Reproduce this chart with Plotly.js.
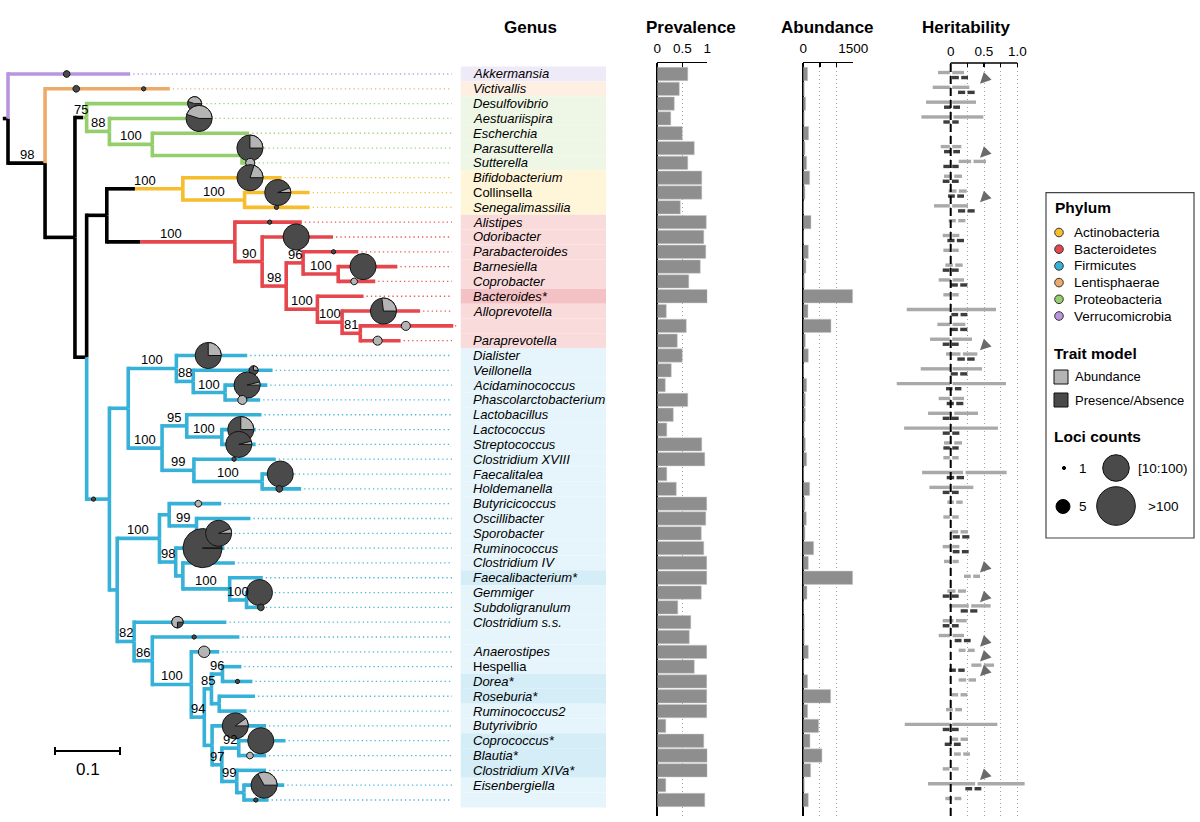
<!DOCTYPE html>
<html><head><meta charset="utf-8">
<script src="https://cdn.plot.ly/plotly-3.0.1.min.js"></script>
<style>body{margin:0;background:#fff}#chart{width:1200px;height:822px}</style>
</head><body><div id="chart"></div>
<script>
// ---------------- DATA ----------------
// Tree (Newick, branch lengths in substitutions/site, internal labels = bootstrap)
const cladeProteobacteria = "(Desulfovibrio:0.166,(Aestuariispira:0.138,(Escherchia:0.149,(Parasutterella:0.023,Sutterella:0.014):0.138)100:0.066)88:0.035)75";
const cladeActinobacteria = "(Bifidobacterium:0.152,(Collinsella:0.100,Senegalimassilia:0.100)100:0.095)100";
const cladeBacteroidetes = "(Alistipes:0.103,(Odoribacter:0.109,((Parabacteroides:0.085,(Barnesiella:0.091,Coprobacter:0.057)100:0.054)96:0.026,(Bacteroides*:0.071,(Alloprevotella:0.120,(unnamed1:0.143,Paraprevotella:0.062)81:0.028)100:0.038)100:0.048)98:0.037)90:0.042)100";
const cladeFirmicutesA = "((Dialister:0.109,(Veillonella:0.122,(Acidaminococcus:0.065,Phascolarctobacterium:0.054)100:0.049)88:0.026)100:0.074,((Lactobacillus:0.115,(Lactococcus:0.052,Streptococcus:0.052)100:0.054)95:0.038,(Clostridium XVIII:0.126,(Faecalitalea:0.045,Holdemanella:0.060)100:0.105)99:0.049)100:0.052)";
const cladeFirmicutesB = "((Butyricicoccus:0.080,(Oscillibacter:0.083,Sporobacter:0.054)99:0.042):0.015,(Ruminococcus:0.075,(Clostridium IV:0.080,(Faecalibacterium*:0.051,(Gemmiger:0.032,Subdoligranulum:0.025)100:0.026)100:0.072):0.011)98:0.025)100";
const cladeFirmicutesC = "(Clostridium s.s.:0.142,(unnamed2:0.134,(Anaerostipes:0.043,(((Hespellia:0.029,Dorea*:0.046)96:0.017,(Roseburia*:0.055,Ruminococcus2:0.042):0.012)85:0.011,(Butyrivibrio:0.083,((Coprococcus*:0.072,Blautia*:0.042)92:0.026,(Clostridium XIVa*:0.045,(Eisenbergiella:0.062,unnamed3:0.038):0.011)99:0.023)97:0.015):0.012)94:0.020)100:0.060)86:0.028)82";
const cladeFirmicutes = "(" + cladeFirmicutesA + ":0.029,(" + cladeFirmicutesB + ":0.065," + cladeFirmicutesC + ":0.026):0.012)";
const newick = "(Akkermansia:0.188,(Victivallis:0.192,(" + cladeProteobacteria + ":0.018,((" + cladeActinobacteria + ":0.117," + cladeBacteroidetes + ":0.197):0.031," + cladeFirmicutes + ":0.035):0.018):0.046)98:0.057):0.008;";

const genus = ["Akkermansia","Victivallis","Desulfovibrio","Aestuariispira","Escherchia","Parasutterella","Sutterella","Bifidobacterium","Collinsella","Senegalimassilia","Alistipes","Odoribacter","Parabacteroides","Barnesiella","Coprobacter","Bacteroides*","Alloprevotella","","Paraprevotella","Dialister","Veillonella","Acidaminococcus","Phascolarctobacterium","Lactobacillus","Lactococcus","Streptococcus","Clostridium XVIII","Faecalitalea","Holdemanella","Butyricicoccus","Oscillibacter","Sporobacter","Ruminococcus","Clostridium IV","Faecalibacterium*","Gemmiger","Subdoligranulum","Clostridium s.s.","","Anaerostipes","Hespellia","Dorea*","Roseburia*","Ruminococcus2","Butyrivibrio","Coprococcus*","Blautia*","Clostridium XIVa*","Eisenbergiella",""];
const uprightGenus = ["Collinsella","Hespellia"];
const tipPhylum = ["V","L","P","P","P","P","P","A","A","A","B","B","B","B","B","B","B","B","B","F","F","F","F","F","F","F","F","F","F","F","F","F","F","F","F","F","F","F","F","F","F","F","F","F","F","F","F","F","F","F"];

const phylumCode = ["A","B","F","L","P","V"];
const phylumName = ["Actinobacteria","Bacteroidetes","Firmicutes","Lentisphaerae","Proteobacteria","Verrucomicrobia"];
const phylumColor = ["#f6be2d","#e5474d","#36b1d8","#eeaa68","#95ce6c","#b995e0"];
const bandColor = ["#fff5d8","#fadbdc","#e6f5fb","#fdefe1","#eef7e5","#efeaf8"];
const bandColorStar = ["#ffeab0","#f4c2c5","#d4edf7","#fbe1c6","#dcefcf","#e0d6f3"];
const stemBlackFraction = [0.37,0.26,0,0,0.7,0];

const prevalence = [0.61,0.44,0.34,0.27,0.50,0.74,0.61,0.89,0.89,0.46,0.98,0.93,0.97,0.86,0.63,1.00,0.18,0.58,0.40,0.50,0.28,0.16,0.61,0.32,0.19,0.89,0.95,0.19,0.38,0.99,0.97,0.88,0.93,0.99,0.99,0.88,0.41,0.67,0.64,0.99,0.74,0.99,0.99,0.99,0.17,0.93,1.00,1.00,0.17,0.95];
const abundance = [130,30,70,30,160,50,100,190,50,10,230,10,150,80,30,1480,140,830,60,150,10,100,60,60,30,60,100,10,190,50,90,50,310,150,1480,110,10,30,30,150,10,130,820,130,460,200,560,220,30,150];

// heritability 95% intervals (light = abundance model, dark = presence/absence model)
const herAbLo = [-0.19,-0.27,-0.37,-0.44,null,-0.15,0.12,-0.10,-0.03,-0.25,-0.03,-0.12,-0.11,-0.08,-0.18,-0.11,-0.66,-0.20,-0.31,-0.07,-0.45,-0.81,-0.18,-0.34,-0.70,-0.10,-0.11,-0.43,-0.32,-0.05,-0.11,0.00,-0.12,-0.10,0.20,-0.05,-0.02,-0.12,-0.18,0.12,0.31,0.12,0.01,-0.07,-0.69,0.00,0.05,-0.12,-0.34,-0.08];
const herAbHi = [0.20,0.28,0.38,0.49,null,0.16,0.53,0.17,0.24,0.26,0.22,0.13,0.12,0.18,0.20,0.12,0.68,0.22,0.32,0.40,0.47,0.83,0.20,0.41,0.71,0.17,0.12,0.84,0.34,0.18,0.12,0.26,0.13,0.12,0.44,0.23,0.60,0.24,0.20,0.36,0.65,0.38,0.25,0.17,0.70,0.26,0.29,0.12,1.11,0.16];
const herPaLo = [0.02,0.11,-0.10,-0.11,null,-0.10,-0.11,-0.12,-0.04,0.11,null,-0.05,null,-0.12,0.00,null,0.01,0.00,-0.12,0.10,0.00,-0.07,-0.06,-0.12,-0.12,-0.11,null,-0.06,-0.12,null,null,0.03,0.03,null,null,-0.12,0.15,-0.12,0.06,null,-0.02,null,null,null,-0.12,-0.09,null,null,0.22,null];
const herPaHi = [0.26,0.36,0.14,0.12,null,0.14,0.12,0.12,0.20,0.36,null,0.20,null,0.12,0.25,null,0.25,0.25,0.12,0.36,0.25,0.16,0.19,0.12,0.13,0.12,null,0.20,0.12,null,null,0.28,0.27,null,null,0.12,0.40,0.12,0.30,null,0.21,null,null,null,0.12,0.15,null,null,0.46,null];
const significantRows = [2,7,10,20,35,37,40,41,42,49];

// mapped loci shown as pies on branches
const pieEdge = ["Akkermansia","Victivallis","Victivallis","Desulfovibrio","Aestuariispira","Parasutterella","Sutterella","Bifidobacterium","Collinsella","Senegalimassilia","Alistipes","Odoribacter","Parabacteroides","Barnesiella","Coprobacter","Alloprevotella","unnamed1","Paraprevotella","stem:F","Dialister","Veillonella","Acidaminococcus","Phascolarctobacterium","Lactococcus","Streptococcus","Clostridium XVIII","Faecalitalea","Holdemanella","Butyricicoccus","Ruminococcus","Sporobacter","Gemmiger","Subdoligranulum","Clostridium s.s.","unnamed2","Anaerostipes","Dorea*","Butyrivibrio","Coprococcus*","Blautia*","Eisenbergiella","unnamed3"];
const pieAt = [0.48,0.25,0.79,1.0,1.0,0.53,0.9,0.68,0.51,0.49,0.52,0.48,0.55,0.42,0.43,0.53,0.49,0.43,0.3,0.45,0.76,0.52,0.49,0.56,0.5,0.49,0.62,0.44,0.56,0.55,0.63,0.62,0.88,0.47,0.48,0.46,0.5,0.43,0.47,0.41,0.5,0.48];
const pieLoci = [2,2,1,5,50,30,3,40,40,1,1,40,1,40,2,40,3,3,1,20,3,40,3,40,40,1,40,2,2,150,40,40,2,4,1,4,1,40,40,2,40,1];
const pieAbundanceShare = [0,0,0,0.45,0.45,0.25,1,0.2,0.06,0,0,0,0,0,1,0.27,1,1,0,0.25,0.25,0.04,1,0.25,0.04,0,0,0,1,0.005,0.06,0,0,0.75,0,1,0,0.1,0,1,0.33,0];

const scaleBarLength = 0.1;

// ---------------- GEOMETRY SETUP ----------------
const W = 1200, H = 822;
const rowPx = 14.816, row1Px = 74;
const rowAt = py => 1 + (py - row1Px) / rowPx;
const treePxPerUnit = 650, treeRootPx = 8;
const treeX = px => (px - treeRootPx) / treePxPerUnit;
const herPxPerUnit = 66.6, herZeroPx = 950.7;
const herX = px => (px - herZeroPx) / herPxPerUnit;
const PX = px => px / W, PY = py => 1 - py / H;
const FONT = "Liberation Sans, Arial, sans-serif";
const BLACK = "#000000";
const LIGHT = "#b4b4b4", DARK = "#4a4a4a";

// ---------------- TREE ----------------
function parseNewick(s){
  let i = 0;
  function node(){
    const n = {children:[], name:"", len:0, label:""};
    if (s[i] === "("){
      i++;
      n.children.push(node());
      while (s[i] === ","){ i++; n.children.push(node()); }
      i++;
      let lab = ""; while (i < s.length && !"(),:;".includes(s[i])) lab += s[i++];
      n.label = lab.trim();
    } else {
      let nm = ""; while (i < s.length && !"(),:;".includes(s[i])) nm += s[i++];
      n.name = nm.trim();
    }
    if (s[i] === ":"){ i++; let num = ""; while (i < s.length && !"(),;".includes(s[i])) num += s[i++]; n.len = parseFloat(num); }
    return n;
  }
  return node();
}
const root = parseNewick(newick);
const nodes = [];
let tipCounter = 0;
function walk(n, parent){
  n.parent = parent;
  n.x = parent ? parent.x + n.len : 0;
  nodes.push(n);
  if (n.children.length === 0){
    tipCounter++; n.y = tipCounter; n.phy = phylumCode.indexOf(tipPhylum[tipCounter-1]);
  } else {
    n.children.forEach(c => walk(c, n));
    n.y = (n.children[0].y + n.children[n.children.length-1].y) / 2;
    const ps = [...new Set(n.children.map(c => c.phy))];
    n.phy = (ps.length === 1 && ps[0] >= 0) ? ps[0] : -1;
  }
}
walk(root, null);

const segs = {};
function addSeg(color, x0, y0, x1, y1){
  if (!segs[color]) segs[color] = {x:[], y:[]};
  segs[color].x.push(x0, x1, null); segs[color].y.push(y0, y1, null);
}
const hw = 1.8 / rowPx;
addSeg(BLACK, -root.len, root.y, 0, root.y);
nodes.forEach(n => {
  const p = n.parent; if (!p) return;
  const col = n.phy >= 0 ? phylumColor[n.phy] : BLACK;
  const stem = n.phy >= 0 && p.phy < 0;
  const frac = stem ? stemBlackFraction[n.phy] : 0;
  const dir = n.y < p.y ? -1 : 1;
  addSeg(frac > 0 ? BLACK : col, p.x, p.y, p.x, n.y + dir * hw);
  if (frac > 0){
    const xm = p.x + frac * (n.x - p.x);
    addSeg(BLACK, p.x, n.y, xm, n.y);
    addSeg(col, xm, n.y, n.x, n.y);
  } else addSeg(col, p.x, n.y, n.x, n.y);
});

const traces = [];
// dotted guides from tips to labels
const guideEnd = treeX(452);
phylumCode.forEach((code, k) => {
  const gx = [], gy = [];
  nodes.filter(n => n.children.length === 0 && n.phy === k).forEach(n => {
    gx.push(n.x + 3 / treePxPerUnit, guideEnd, null); gy.push(n.y, n.y, null);
  });
  traces.push({type:"scatter", mode:"lines", x:gx, y:gy, xaxis:"x", yaxis:"y", hoverinfo:"skip",
    line:{color:phylumColor[k], width:1.3, dash:"1.3px,3px"}, opacity:0.9});
});
[BLACK, ...phylumColor].forEach(c => {
  if (!segs[c]) return;
  traces.push({type:"scatter", mode:"lines", x:segs[c].x, y:segs[c].y, xaxis:"x", yaxis:"y",
    hoverinfo:"skip", line:{color:c, width:3.6}});
});

// pies
function lociRadius(c){ return c >= 100 ? 19.5 : (c >= 10 ? 13 : 1 + 1.2 * c); }
function arcPts(cx, cy, r, a0, a1, withCenter){
  const xs = [], ys = [];
  if (withCenter){ xs.push(cx); ys.push(cy); }
  const n = Math.max(8, Math.ceil(Math.abs(a1 - a0) / (Math.PI / 40)));
  for (let i = 0; i <= n; i++){
    const a = a0 + (a1 - a0) * i / n;
    xs.push(cx + r * Math.cos(a) / treePxPerUnit);
    ys.push(cy - r * Math.sin(a) / rowPx);
  }
  if (withCenter){ xs.push(cx); ys.push(cy); }
  return {xs, ys};
}
pieEdge.forEach((e, i) => {
  let n;
  if (e.startsWith("stem:")){
    const k = phylumCode.indexOf(e.slice(5));
    n = nodes.find(d => d.phy === k && d.parent && d.parent.phy < 0);
  } else {
    n = nodes.find(d => d.children.length === 0 && d.name === e);
  }
  const p = n.parent;
  const cx = p.x + pieAt[i] * (n.x - p.x), cy = n.y;
  const r = lociRadius(pieLoci[i]);
  const share = pieAbundanceShare[i];
  const full = arcPts(cx, cy, r, 0, 2 * Math.PI, false);
  traces.push({type:"scatter", mode:"lines", x:full.xs, y:full.ys, fill:"toself",
    fillcolor: share >= 1 ? LIGHT : DARK, line:{color:"#111", width:1}, xaxis:"x", yaxis:"y", hoverinfo:"skip"});
  if (share > 0 && share < 1){
    const w = arcPts(cx, cy, r, 0, 2 * Math.PI * share, true);
    traces.push({type:"scatter", mode:"lines", x:w.xs, y:w.ys, fill:"toself",
      fillcolor: LIGHT, line:{color:"#111", width:1}, xaxis:"x", yaxis:"y", hoverinfo:"skip"});
  }
});

// scale bar
const sbY = rowAt(751), sbX0 = treeX(55), tk = 4 / rowPx;
traces.push({type:"scatter", mode:"lines", xaxis:"x", yaxis:"y", hoverinfo:"skip",
  x:[sbX0, sbX0 + scaleBarLength, null, sbX0, sbX0, null, sbX0 + scaleBarLength, sbX0 + scaleBarLength],
  y:[sbY, sbY, null, sbY - tk, sbY + tk, null, sbY - tk, sbY + tk], line:{color:BLACK, width:2}});

// ---------------- BAR PANELS ----------------
const rows = genus.map((g, i) => i + 1);
traces.push({type:"bar", orientation:"h", x:prevalence, y:rows, xaxis:"x2", yaxis:"y", width:0.9,
  marker:{color:"#8e8e8e", line:{color:"#c8c8c8", width:0.5}}, hoverinfo:"skip", cliponaxis:false});
traces.push({type:"bar", orientation:"h", x:abundance, y:rows, xaxis:"x3", yaxis:"y", width:0.9,
  marker:{color:"#8e8e8e", line:{color:"#c8c8c8", width:0.5}}, hoverinfo:"skip", cliponaxis:false});

// heritability intervals
function intervalTrace(lo, hi, dy, color){
  const xs = [], ys = [], g = 0.018;
  lo.forEach((l, i) => {
    if (l === null) return;
    const h = hi[i], m = (l + h) / 2, y = i + 1 + dy;
    xs.push(l, m - g, null, m + g, h, null); ys.push(y, y, null, y, y, null);
  });
  return {type:"scatter", mode:"lines", x:xs, y:ys, xaxis:"x4", yaxis:"y", hoverinfo:"skip",
    line:{color:color, width:3.4}, cliponaxis:false};
}
traces.push(intervalTrace(herAbLo, herAbHi, -0.1, "#a9a9a9"));
traces.push(intervalTrace(herPaLo, herPaHi, 0.24, "#3d3d3d"));

// ---------------- ANNOTATIONS & SHAPES ----------------
const annotations = [], shapes = [];
const txt = (text, x, y, opt) => annotations.push(Object.assign({text, x, y, xref:"paper", yref:"paper",
  showarrow:false, font:{family:FONT, size:13.5, color:"#000"}}, opt));

// headers
[["Genus",530],["Prevalence",691],["Abundance",827],["Heritability",966]].forEach(([t, x]) =>
  txt("<b>" + t + "</b>", PX(x), PY(28), {xanchor:"center", yanchor:"middle", font:{family:FONT, size:17, color:"#000"}}));

// bootstrap labels
nodes.forEach(n => {
  if (!n.label || !n.parent) return;
  annotations.push({text:n.label, x:(n.parent.x + n.x) / 2, y:n.y, xref:"x", yref:"y", showarrow:false,
    xanchor:"center", yanchor:"bottom", yshift:-1, font:{family:FONT, size:13, color:"#000"}});
});
txt(String(scaleBarLength), PX(88), PY(769), {xanchor:"center", yanchor:"middle", font:{family:FONT, size:17, color:"#000"}});

// genus bands and labels
genus.forEach((g, i) => {
  const k = phylumCode.indexOf(tipPhylum[i]);
  const star = g.endsWith("*");
  shapes.push({type:"rect", xref:"paper", yref:"y", x0:PX(460.7), x1:PX(606), y0:i + 0.5, y1:i + 1.5,
    fillcolor: star ? bandColorStar[k] : bandColor[k], line:{width:0}, layer:"below"});
  if (g) annotations.push({text: uprightGenus.includes(g) ? g : "<i>" + g + "</i>", x:PX(470.5), y:i + 1,
    xref:"paper", yref:"y", xanchor:"left", yanchor:"middle", showarrow:false,
    font:{family:FONT, size:13, color:"#000"}});
});

// heritability zero line and axis line
shapes.push({type:"line", xref:"x4", yref:"paper", x0:0, x1:0, y0:PY(816), y1:PY(63),
  line:{color:"#000", width:2, dash:"8px,4px"}});
shapes.push({type:"line", xref:"x4", yref:"paper", x0:0, x1:1, y0:PY(63), y1:PY(63),
  line:{color:"#000", width:1.5}});

// significance arrows
significantRows.forEach(r => annotations.push({text:"", x:0.44, y:r - 0.35, xref:"x4", yref:"y",
  showarrow:true, arrowhead:2, arrowsize:1.45, arrowwidth:1.5, arrowcolor:"#6a6a6a", ax:8, ay:-8, standoff:0}));

// legend
shapes.push({type:"rect", xref:"paper", yref:"paper", x0:PX(1046), x1:PX(1194), y0:PY(538), y1:PY(192.7),
  line:{color:"#444", width:1.2}, fillcolor:"rgba(0,0,0,0)"});
function circ(cx, cy, r, fill, lineCol){
  shapes.push({type:"circle", xref:"paper", yref:"paper", xsizemode:"pixel", ysizemode:"pixel",
    xanchor:PX(cx), yanchor:PY(cy), x0:-r, x1:r, y0:-r, y1:r, fillcolor:fill, line:{color:lineCol, width:1}});
}
txt("<b>Phylum</b>", PX(1053), PY(207), {xanchor:"left", yanchor:"middle", font:{family:FONT, size:15.5, color:"#000"}});
phylumName.forEach((nm, k) => {
  const y = 232.5 + k * 16.7;
  circ(1059, y, 4.3, phylumColor[k], "#333");
  txt(nm, PX(1071.5), PY(y), {xanchor:"left", yanchor:"middle"});
});
txt("<b>Trait model</b>", PX(1052), PY(353), {xanchor:"left", yanchor:"middle", font:{family:FONT, size:15.5, color:"#000"}});
[["Abundance", LIGHT, 377], ["Presence/Absence", DARK, 400]].forEach(([t, c, y]) => {
  shapes.push({type:"rect", xref:"paper", yref:"paper", x0:PX(1054), x1:PX(1068), y0:PY(y + 7), y1:PY(y - 7),
    fillcolor:c, line:{color:"#111", width:1}});
  txt(t, PX(1073), PY(y), {xanchor:"left", yanchor:"middle", font:{family:FONT, size:13, color:"#000"}});
});
txt("<b>Loci counts</b>", PX(1052), PY(436), {xanchor:"left", yanchor:"middle", font:{family:FONT, size:15.5, color:"#000"}});
circ(1064, 468, 1.6, "#000", "#000");
txt("1", PX(1077), PY(468), {xanchor:"left", yanchor:"middle"});
circ(1116, 468, 13.3, DARK, "#111");
txt("[10:100)", PX(1163), PY(468), {xanchor:"center", yanchor:"middle"});
circ(1063, 506.5, 7, "#000", "#000");
txt("5", PX(1077), PY(506.5), {xanchor:"left", yanchor:"middle"});
circ(1116, 506, 19.3, DARK, "#111");
txt(">100", PX(1163), PY(506), {xanchor:"center", yanchor:"middle"});

// ---------------- LAYOUT ----------------
const topAxis = (domPx, range, tickvals, ticktext, extra) => Object.assign({
  domain:[PX(domPx[0]), PX(domPx[1])], range, anchor:"y", side:"top",
  tickvals, ticktext, ticks:"inside", ticklen:4, tickwidth:1.2, tickcolor:"#000",
  showline:true, linecolor:"#000", linewidth:1.5, ticklabelstandoff:3,
  showgrid:true, gridcolor:"#a0a0a0", griddash:"1px,3px", gridwidth:1,
  zeroline:true, zerolinecolor:"#000", zerolinewidth:2,
  tickfont:{family:FONT, size:13.5, color:"#000"}, fixedrange:true}, extra || {});

const layout = {
  width:W, height:H, margin:{l:0, r:0, t:0, b:0}, paper_bgcolor:"#fff", plot_bgcolor:"rgba(0,0,0,0)",
  showlegend:false, bargap:0,
  xaxis:{domain:[0, PX(480)], range:[treeX(0), treeX(480)], visible:false, fixedrange:true},
  yaxis:{domain:[PY(816), PY(63)], range:[rowAt(816), rowAt(63)], visible:false, fixedrange:true},
  xaxis2: topAxis([657.3, 707.3], [0, 1], [0, 0.5, 1], ["0", "0.5", "1"]),
  xaxis3: topAxis([803.3, 853.3], [0, 1500], [0, 500, 1000, 1500], ["0", "", "", "1500"]),
  xaxis4: topAxis([893, 1030], [herX(893), herX(1030)], [0, 0.25, 0.5, 0.75, 1], ["0", "", "0.5", "", "1.0"],
    {showline:false, zeroline:false}),
  annotations, shapes
};
Plotly.newPlot("chart", traces, layout, {staticPlot:true, displayModeBar:false});
</script>
</body></html>
